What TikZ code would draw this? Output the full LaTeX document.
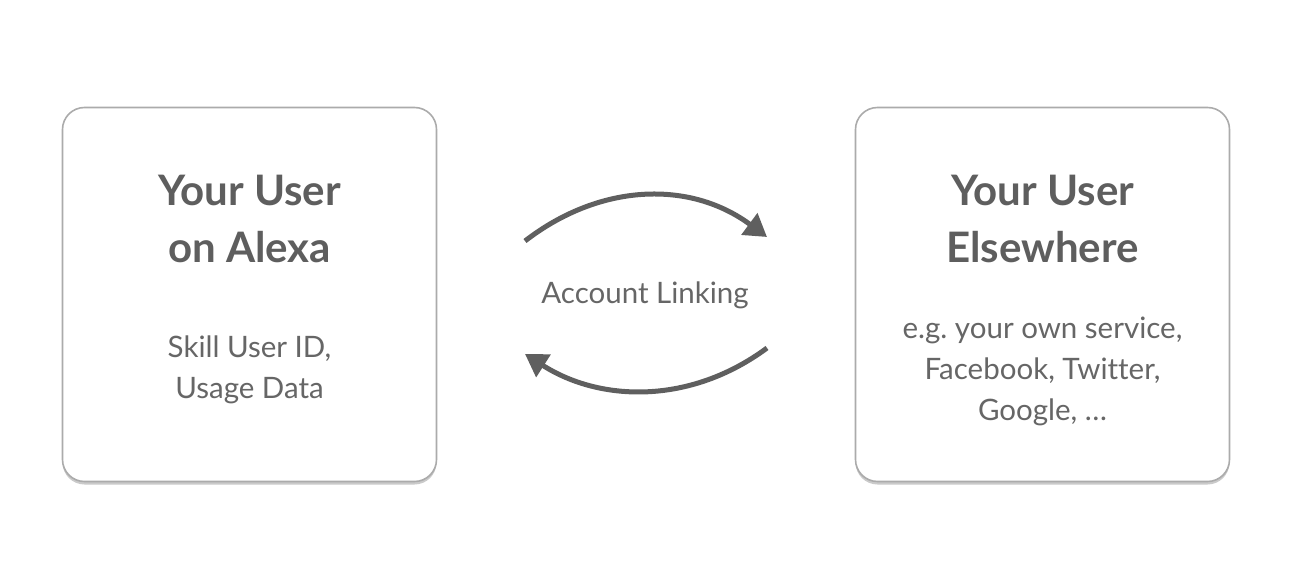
\documentclass[tikz,border=0pt]{standalone}
\usepackage{fontspec}
\setmainfont{Lato}[Ligatures=NoCommon]
\usetikzlibrary{arrows.meta,shadows}
\definecolor{txt}{HTML}{5E5E5E}
\definecolor{btxt}{HTML}{666666}
\definecolor{bord}{HTML}{ABABAB}
\definecolor{arr}{HTML}{5F5F5F}
\begin{document}
\begin{tikzpicture}[x=1pt,y=-1pt,
  card/.style={draw=bord,line width=1.6pt,fill=white,rounded corners=22pt,
    minimum width=374pt,minimum height=374pt,inner sep=0pt,
    drop shadow={shadow xshift=0pt,shadow yshift=-3pt,opacity=0.35,fill=black!60}},
  head/.style={font=\fontsize{42}{57}\selectfont\bfseries,text=txt,align=center,anchor=base,inner sep=0pt},
  body/.style={font=\fontsize{29.5}{41}\selectfont\frenchspacing,text=btxt,align=center,anchor=base,inner sep=0pt},
  link/.style={draw=arr,line width=5pt,-{Triangle[length=22pt,width=26pt]}}
]
\useasboundingbox (0,0) rectangle (1292,586);
\node[card] (alexa) at (249.5,294.5) {};
\node[card] (else) at (1042.5,294.5) {};
\node[head] (h1) at (249.5,262) {Your User\\on Alexa};
\node[body] (b1) at (249.5,398) {Skill User ID,\\Usage Data};
\node[head] (h2) at (1042.5,262) {Your User\\Elsewhere};
\node[body] (b2) at (1042.5,420) {e.g. your own service,\\Facebook, Twitter,\\Google, \dots};
\node[body] (al) at (645,303) {Account Linking};
\coordinate (t1) at (525,241);
\coordinate (t2) at (767,237);
\coordinate (u1) at (767,348);
\coordinate (u2) at (525,354);
\draw[link] (t1) .. controls (600,183) and (690,180) .. (t2);
\draw[link] (u1) .. controls (690,405) and (600,402) .. (u2);
\end{tikzpicture}
\end{document}
